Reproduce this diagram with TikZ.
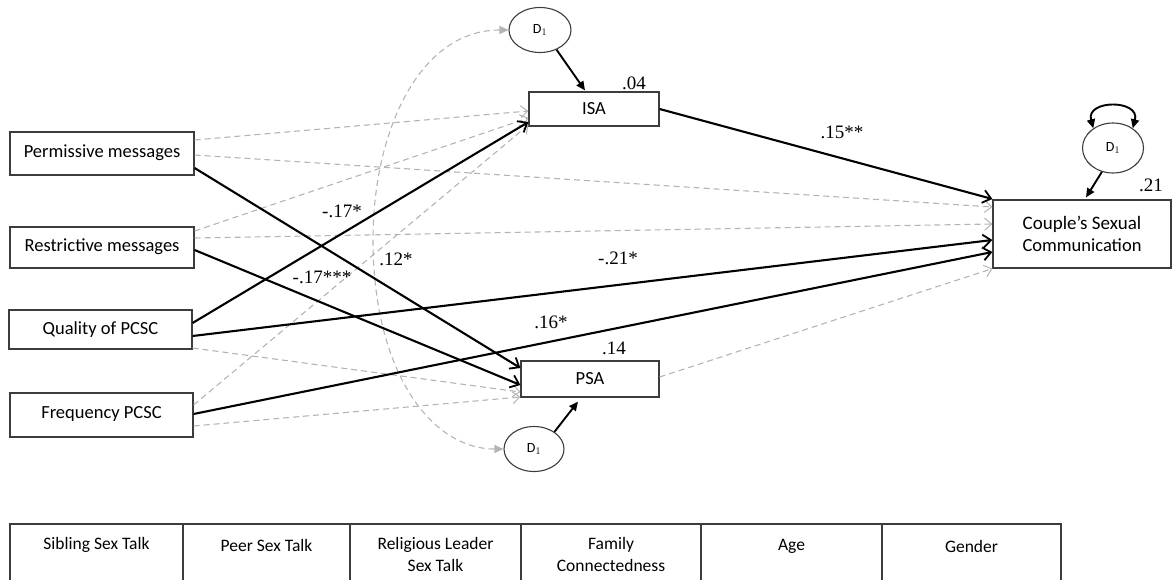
\documentclass[tikz,border=0pt]{standalone}
\usepackage{fontspec}
\setmainfont{Liberation Serif}
\newfontfamily\carl{Carlito}
\usetikzlibrary{arrows.meta,shapes.geometric}
\definecolor{boxline}{HTML}{3C3C3C}
\definecolor{dashgray}{HTML}{B4B4B4}
\tikzset{
  varbox/.style={draw=boxline, line width=1.2pt, rectangle, inner sep=0pt, font=\carl\fontsize{18.5}{22}\selectfont, align=center},
  dist/.style={draw=boxline, line width=1.1pt, ellipse, inner sep=0pt, font=\carl\fontsize{14}{16}\selectfont},
  sig/.style={line width=2.1pt, black, -{Straight Barb[length=8pt,width=13pt,line width=1.8pt]}},
  nonsig/.style={line width=1.1pt, dashgray, dash pattern=on 6pt off 4pt, -{Straight Barb[length=7pt,width=12pt,line width=1pt]}},
  distarrow/.style={line width=1.9pt, black, -{Triangle[length=9pt,width=8pt]}},
  covar/.style={line width=1.1pt, dashgray, dash pattern=on 6pt off 4pt, {Triangle[length=9pt,width=8pt]}-{Triangle[length=9pt,width=8pt]}},
  coef/.style={font=\fontsize{19}{20}\selectfont, inner sep=0pt},
  cell/.style={draw=boxline, line width=1.2pt, rectangle, inner sep=0pt},
  celltext/.style={font=\carl\fontsize{17.5}{22}\selectfont, align=center, inner sep=0pt},
}
\begin{document}
\begin{tikzpicture}[x=1pt,y=-1pt]
\useasboundingbox (0,0) rectangle (1172,580);
% variable boxes
\node[varbox, minimum width=184pt, minimum height=43pt] (perm) at (102,153.5) {\raisebox{5pt}{Permissive messages}};
\node[varbox, minimum width=184pt, minimum height=41pt] (restr) at (102,247.5) {\raisebox{5pt}{Restrictive messages}};
\node[varbox, minimum width=183pt, minimum height=39pt] (qual) at (100.5,329.5) {Quality of PCSC};
\node[varbox, minimum width=183pt, minimum height=44pt] (freq) at (101.5,415) {\raisebox{5pt}{Frequency PCSC}};
\node[varbox, minimum width=130pt, minimum height=34pt] (isa) at (594,109) {ISA};
\node[varbox, minimum width=138pt, minimum height=36pt] (psa) at (590,379) {PSA};
\node[varbox, minimum width=178pt, minimum height=68pt] (csc) at (1082,234) {\fontsize{19}{22}\selectfont Couple’s Sexual\\Communication};
% disturbances
\node[dist, minimum width=62pt, minimum height=45pt] (d1a) at (540,30) {D$_1$};
\node[dist, minimum width=60pt, minimum height=45pt] (d1b) at (534,449) {D$_1$};
\node[dist, minimum width=61pt, minimum height=50pt] (d1c) at (1113,148) {D$_1$};
% nonsignificant paths
\draw[nonsig] ([yshift=13.5pt]perm.east) -- ([yshift=-2pt]isa.west);
\draw[nonsig] ([yshift=-1.5pt]perm.east) -- ([yshift=27pt]csc.west);
\draw[nonsig] ([yshift=16.5pt]restr.east) -- ([yshift=-9pt]isa.west);
\draw[nonsig] ([yshift=9.5pt]restr.east) -- ([yshift=10pt]csc.west);
\draw[nonsig] ([yshift=-18.5pt]qual.east) -- ([yshift=-13pt]psa.west);
\draw[nonsig] ([yshift=10pt]freq.east) -- ([yshift=-16pt]isa.west);
\draw[nonsig] ([yshift=-11pt]freq.east) -- ([yshift=-18pt]psa.west);
\draw[nonsig] ([yshift=2pt]psa.east) -- (csc.south west);
% covariance
\coordinate (cv) at (373,240);
\draw[covar] (d1a.west) .. controls (420,30) and (373,130) .. (cv) .. controls (373,370) and (430,449) .. (d1b.west);
% significant paths
\draw[sig] ([yshift=-14.5pt]perm.east) -- ([yshift=11pt]psa.west);
\draw[sig] ([yshift=-2.5pt]restr.east) -- ([yshift=-6pt]psa.west);
\draw[sig] ([yshift=6.5pt]qual.east) -- ([yshift=-13pt]isa.west);
\draw[sig] ([yshift=-6.5pt]qual.east) -- ([yshift=-6pt]csc.west);
\draw[sig] ([yshift=1pt]freq.east) -- ([yshift=-18pt]csc.west);
\draw[sig] (isa.east) -- ([yshift=35pt]csc.west);
% disturbance arrows
\draw[distarrow] (d1a.-50) -- ([xshift=-9pt,yshift=1pt]isa.north);
\draw[distarrow] (d1b.40) -- ([xshift=-12pt,yshift=-4pt]psa.south);
\draw[distarrow] (d1c.-115) -- ([xshift=4pt,yshift=2pt]csc.north);
\draw[line width=1.9pt, black, {Triangle[length=9pt,width=8pt]}-{Triangle[length=9pt,width=8pt]}] (d1c.135) .. controls +(-105:30) and +(-75:30) .. (d1c.45);
% coefficients
\node[coef] (r1) at (634,83) {.04};
\node[coef] (r2) at (614,348) {.14};
\node[coef] (r3) at (1151,185) {.21};
\node[coef] (p1) at (842,132) {.15**};
\node[coef] (p2) at (342,211) {-.17*};
\node[coef] (p3) at (396,259) {.12*};
\node[coef] (p4) at (322,277) {-.17***};
\node[coef] (p5) at (618,258) {-.21*};
\node[coef] (p6) at (551,322) {.16*};
% covariates row
\node[cell, minimum width=173pt, minimum height=62pt] (c1) at (96.5,555) {};
\node[cell, minimum width=167pt, minimum height=62pt] (c2) at (266.5,555) {};
\node[cell, minimum width=171pt, minimum height=62pt] (c3) at (435.5,555) {};
\node[cell, minimum width=180pt, minimum height=62pt] (c4) at (611,555) {};
\node[cell, minimum width=181pt, minimum height=62pt] (c5) at (791.5,555) {};
\node[cell, minimum width=179pt, minimum height=62pt] (c6) at (971.5,555) {};
\node[celltext] (t1) at (96.5,545) {Sibling Sex Talk};
\node[celltext] (t2) at (266.5,545) {Peer Sex Talk};
\node[celltext] (t3) at (435.5,554) {Religious Leader\\Sex Talk};
\node[celltext] (t4) at (611,554) {Family\\Connectedness};
\node[celltext] (t5) at (791.5,546) {Age};
\node[celltext] (t6) at (971.5,546) {Gender};
\end{tikzpicture}
\end{document}
